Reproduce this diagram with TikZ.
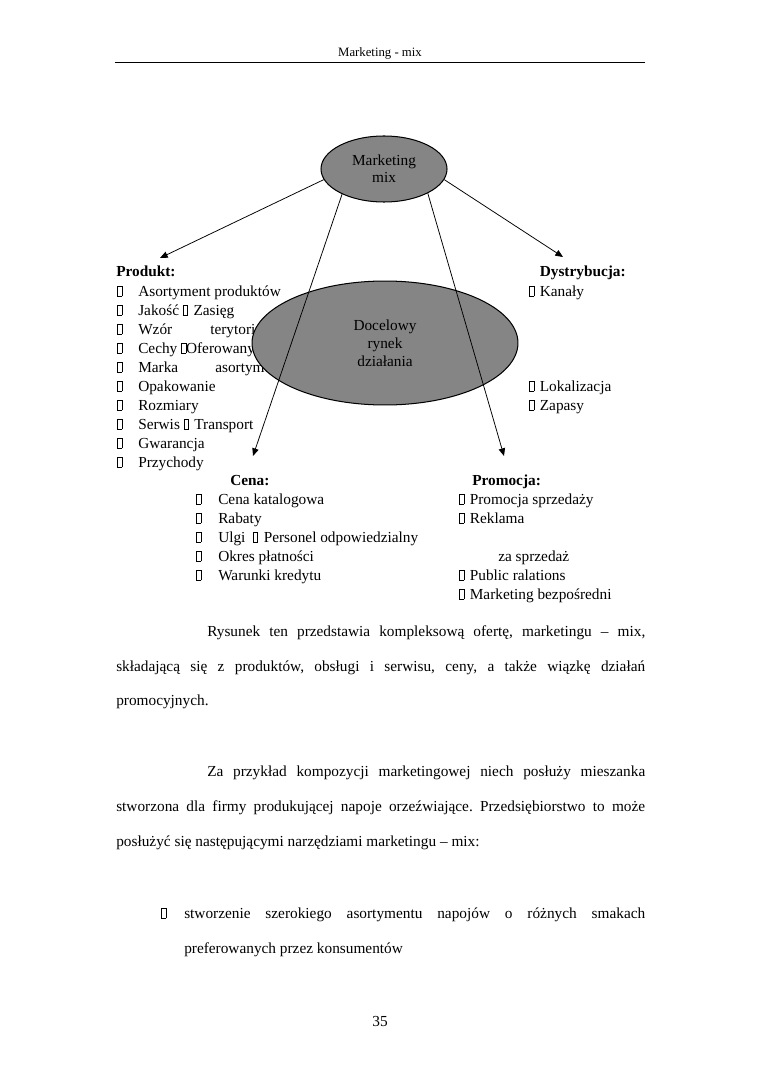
\documentclass[tikz,border=0pt]{standalone}
\usepackage{fontspec}
\setmainfont{Liberation Serif}
\usetikzlibrary{shapes.geometric,arrows.meta}
\frenchspacing
\newcommand\tofu{\begingroup\setlength\fboxsep{0pt}\setlength\fboxrule{0.4pt}\fbox{\rule{0pt}{7.5pt}\hspace{3pt}}\endgroup}
\newcommand\tofusp{\tofu\hspace{4.5pt}}
\tikzset{
  txt/.style={anchor=base west, inner sep=0pt, font=\rmfamily\fontsize{12}{14}\selectfont},
  bold/.style={txt, font=\rmfamily\fontsize{12}{14}\selectfont\bfseries},
  blob/.style={ellipse, draw=black, line width=0.8pt, fill=black!48, align=center, inner sep=0pt, font=\rmfamily\fontsize{12}{14}\selectfont},
  conn/.style={line width=0.6pt, -{Triangle[length=6pt,width=5pt]}}
}
\begin{document}
\begin{tikzpicture}[x=0.78326pt, y=-0.78326pt]
\useasboundingbox (0,0) rectangle (760,1075);
\fill[white] (0,0) rectangle (760,1075);
% header
\node[anchor=base, inner sep=0pt, font=\rmfamily\fontsize{10}{12}\selectfont] (hdr) at (380,57) {Marketing - mix};
\coordinate (hl) at (115,62);
\coordinate (hr) at (645,62);
\draw[line width=0.6pt] (hl) -- (hr);
% Produkt
\node[bold] (prod) at (116,276) {Produkt:};
\foreach \y/\t [count=\i] in {296/Asortyment produktów, 315/{Jakość \tofusp Zasięg}, 334/Wzór, 353/{Cechy \tofu{}Oferowany}, 372/Marka, 391/Opakowanie, 410/Rozmiary, 429/{Serwis \tofusp Transport}, 448/Gwarancja, 467/Przychody}{
  \node[txt] (pb\i) at (117,\y) {\tofu};
  \node[txt] (pt\i) at (138,\y) {\t};
}
\node[txt] (pw) at (210,334) {terytorium};
\node[txt] (pm) at (215,372) {asortyment};
% Dystrybucja
\node[bold, anchor=base east] (dys) at (626,276) {Dystrybucja:};
\node[txt] (d1) at (529,296) {\tofusp Kanały};
\node[txt] (d2) at (529,391) {\tofusp Lokalizacja};
\node[txt] (d3) at (529,410) {\tofusp Zapasy};
% Cena
\node[bold] (cena) at (230,485) {Cena:};
\foreach \y/\t [count=\i] in {504/Cena katalogowa, 523/Rabaty, 542/{Ulgi \ \tofusp Personel odpowiedzialny}, 561/Okres płatności, 580/Warunki kredytu}{
  \node[txt] (cb\i) at (196,\y) {\tofu};
  \node[txt] (ct\i) at (218,\y) {\t};
}
% Promocja
\node[bold] (prom) at (472,485) {Promocja:};
\node[txt] (m1) at (459,504) {\tofusp Promocja sprzedaży};
\node[txt] (m2) at (459,523) {\tofusp Reklama};
\node[txt] (m3) at (498,561) {za sprzedaż};
\node[txt] (m4) at (459,580) {\tofusp Public ralations};
\node[txt] (m5) at (459,599) {\tofusp Marketing bezpośredni};
% ellipses
\node[blob, minimum width=208.3pt, minimum height=97.1pt] (rynek) at (385,343) {Docelowy\\rynek\\działania};
\node[blob, minimum width=98.7pt, minimum height=51.7pt, font=\rmfamily\fontsize{12}{13.5}\selectfont] (mm) at (384,169) {Marketing\\mix};
% connectors
\coordinate (aP) at (160,258);
\coordinate (aD) at (563,257);
\coordinate (aC) at (253,456);
\coordinate (aR) at (504,456);
\draw[conn] (mm.190) -- (aP);
\draw[conn] (mm.350) -- (aD);
\draw[conn] (mm.211) -- (aC);
\draw[conn] (mm.331) -- (aR);
% paragraphs
\node[txt] (p1) at (207,636) {\makebox[343.1pt][s]{Rysunek ten przedstawia kompleksową ofertę, marketingu – mix,}};
\node[txt] (p2) at (116,671) {\makebox[414.3pt][s]{składającą się z produktów, obsługi i serwisu, ceny, a także wiązkę działań}};
\node[txt] (p3) at (116,705) {promocyjnych.};
\node[txt] (q1) at (207,776) {\makebox[343.1pt][s]{Za przykład kompozycji marketingowej niech posłuży mieszanka}};
\node[txt] (q2) at (116,811) {\makebox[414.3pt][s]{stworzona dla firmy produkującej napoje orzeźwiające. Przedsiębiorstwo to może}};
\node[txt] (q3) at (116,846) {posłużyć się następującymi narzędziami marketingu – mix:};
\node[txt] (bb) at (161,918) {\tofu};
\node[txt] (b1) at (184,918) {\makebox[361.1pt][s]{stworzenie szerokiego asortymentu napojów o różnych smakach}};
\node[txt] (b2) at (184,953) {preferowanych przez konsumentów};
\node[anchor=base, inner sep=0pt, font=\rmfamily\fontsize{12}{14}\selectfont] (pg) at (380,1026) {35};
\end{tikzpicture}
\end{document}
